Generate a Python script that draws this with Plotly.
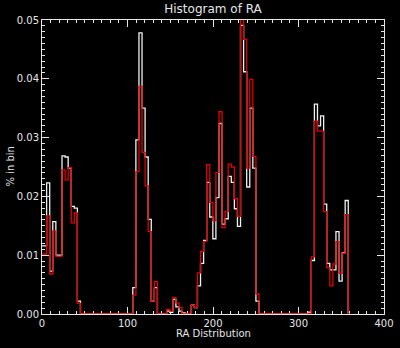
import plotly.graph_objects as go

# RA bin positions (deg), 100 bins of 3.6 deg plus a closing empty bin
ra_bins = [round(i * 3.6, 1) for i in range(101)]

pct_white = [
    0.0116, 0.0116, 0.0223, 0.0073, 0.0157, 0.0100, 0.0100, 0.0269, 0.0267, 0.0248,
    0.0183, 0.0180, 0.0022, 0, 0, 0, 0, 0, 0, 0,
    0, 0, 0, 0, 0, 0, 0, 0, 0, 0,
    0.0045, 0.0296, 0.0478, 0.0350, 0.0267, 0.0161, 0.0022, 0.0045, 0, 0,
    0, 0.0005, 0.0003, 0.0025, 0.0012, 0.0005, 0.0002, 0, 0, 0.0015,
    0.0011, 0.0048, 0.0086, 0.0125, 0.0224, 0.0165, 0.0128, 0.0198, 0.0324, 0.0153,
    0.0162, 0.0234, 0.0224, 0.0179, 0.0149, 0.0491, 0.0412, 0.0216, 0.0350, 0.0248,
    0.0022, 0, 0, 0, 0, 0, 0, 0, 0, 0,
    0, 0, 0, 0, 0, 0, 0, 0.0003, 0.0091, 0.0357,
    0.0320, 0.0337, 0.0187, 0.0086, 0.0075, 0.0075, 0.0140, 0.0056, 0.0104, 0.0193,
    0,
]

pct_red = [
    0.0102, 0.0102, 0.0167, 0.0068, 0.0141, 0.0098, 0.0098, 0.0245, 0.0228, 0.0249,
    0.0155, 0.0172, 0.0018, 0, 0, 0, 0, 0, 0, 0,
    0, 0, 0, 0, 0, 0, 0, 0, 0, 0,
    0.0032, 0.0242, 0.0387, 0.0275, 0.0218, 0.0140, 0.0022, 0.0055, 0, 0,
    0, 0.0008, 0.0005, 0.0028, 0.0019, 0.0011, 0, 0, 0, 0.0015,
    0.0011, 0.0070, 0.0106, 0.0123, 0.0254, 0.0190, 0.0159, 0.0241, 0.0344, 0.0147,
    0.0174, 0.0255, 0.0250, 0.0196, 0.0166, 0.0530, 0.0467, 0.0248, 0.0399, 0.0268,
    0.0034, 0, 0, 0, 0, 0, 0, 0, 0, 0,
    0, 0, 0, 0, 0, 0, 0, 0.0001, 0.0097, 0.0328,
    0.0311, 0.0311, 0.0174, 0.0079, 0.0048, 0.0085, 0.0123, 0.0069, 0.0103, 0.0169,
    0,
]

x_ticks = [0, 100, 200, 300, 400]
y_ticks = [0.00, 0.01, 0.02, 0.03, 0.04, 0.05]

fg = "#e6e6e6"
font = "DejaVu Sans"

fig = go.Figure()
fig.add_trace(go.Scatter(x=ra_bins, y=pct_white, mode="lines",
                         line=dict(color="#f0f0f0", width=1.3, shape="hvh"),
                         showlegend=False, hoverinfo="skip"))
fig.add_trace(go.Scatter(x=ra_bins, y=pct_red, mode="lines",
                         line=dict(color="#e00000", width=1.3, shape="hvh"),
                         showlegend=False, hoverinfo="skip"))

axis_common = dict(
    showgrid=False, zeroline=False, showline=True, linecolor=fg, linewidth=1,
    mirror="allticks", ticks="inside", tickcolor=fg, ticklen=7, tickwidth=1,
    tickfont=dict(family=font, size=10, color=fg), layer="below traces",
    automargin=False,
)

fig.update_xaxes(range=[0, 400], tickvals=x_ticks, ticktext=[str(v) for v in x_ticks],
                 minor=dict(dtick=10, ticks="inside", ticklen=3, tickcolor=fg, tickwidth=1),
                 **axis_common)
fig.update_yaxes(range=[0, 0.05], tickvals=y_ticks, ticktext=[f"{v:.2f}" for v in y_ticks],
                 minor=dict(dtick=0.001, ticks="inside", ticklen=3, tickcolor=fg, tickwidth=1),
                 **axis_common)

fig.update_layout(
    width=400, height=348,
    margin=dict(l=42, r=16, t=20, b=34),
    paper_bgcolor="black", plot_bgcolor="black",
    title=dict(text="Histogram of RA", x=0.5325, xanchor="center", y=1 - 9 / 348,
               yanchor="middle", font=dict(family=font, size=12, color=fg)),
    annotations=[
        dict(text="RA Distribution", xref="paper", yref="paper", x=0.5, y=-0.065,
             xanchor="center", yanchor="middle", showarrow=False,
             font=dict(family=font, size=10, color=fg)),
        dict(text="% in bin", xref="paper", yref="paper", x=-0.095, y=0.5,
             xanchor="center", yanchor="middle", textangle=-90, showarrow=False,
             font=dict(family=font, size=10, color=fg)),
    ],
)

fig.write_html("out.html", config={"displayModeBar": False},
               post_script="document.body.style.margin='0';")
